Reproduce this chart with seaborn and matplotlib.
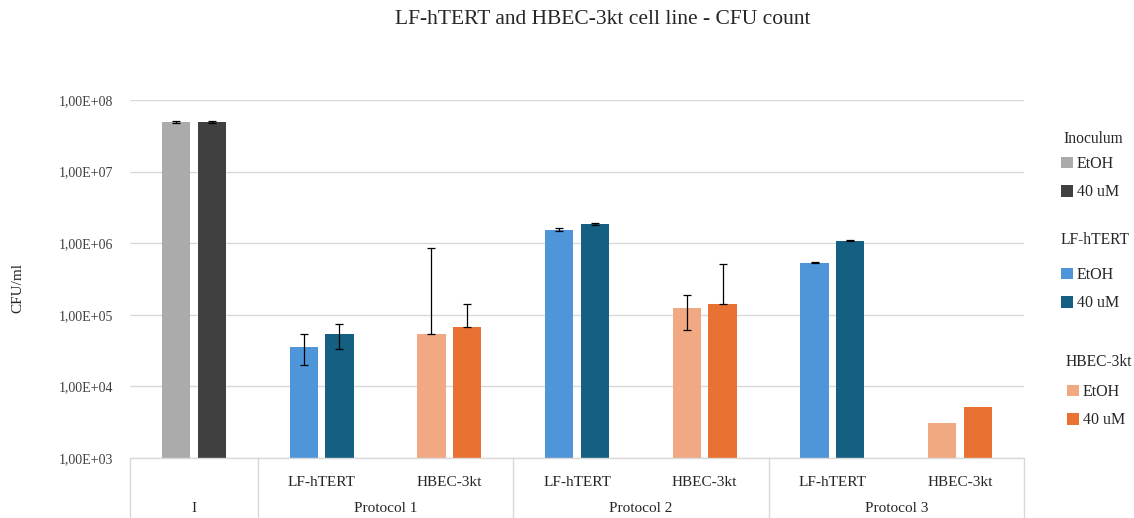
import numpy as np
import pandas as pd
import matplotlib
matplotlib.use("Agg")
import matplotlib.pyplot as plt
import seaborn as sns
from matplotlib.patches import Patch
from matplotlib.ticker import FixedLocator, FuncFormatter, NullLocator
import matplotlib.transforms as mtransforms

# ---------------- data ----------------
slots = ["I", "P1-LF", "P1-HBEC", "P2-LF", "P2-HBEC", "P3-LF", "P3-HBEC"]
sub_labels = ["", "LF-hTERT", "HBEC-3kt", "LF-hTERT", "HBEC-3kt", "LF-hTERT", "HBEC-3kt"]
groups = ["Inoculum", "LF-hTERT", "HBEC-3kt", "LF-hTERT", "HBEC-3kt", "LF-hTERT", "HBEC-3kt"]
protocols = ["I", "Protocol 1", "Protocol 2", "Protocol 3"]
protocol_slots = [[0], [1, 2], [3, 4], [5, 6]]
treatments = ["EtOH", "40 uM"]
legend_groups = ["Inoculum", "LF-hTERT", "HBEC-3kt"]

etoh = [5.0e7, 3.6e4, 5.4e4, 1.55e6, 1.25e5, 5.35e5, 3.1e3]
um40 = [5.0e7, 5.4e4, 6.8e4, 1.85e6, 1.40e5, 1.08e6, 5.2e3]
etoh_lo = [4.85e7, 2.0e4, 5.4e4, 1.49e6, 6.1e4, 5.28e5, np.nan]
etoh_hi = [5.15e7, 5.4e4, 8.5e5, 1.61e6, 1.9e5, 5.42e5, np.nan]
um40_lo = [4.85e7, 3.3e4, 6.8e4, 1.80e6, 1.40e5, 1.07e6, np.nan]
um40_hi = [5.15e7, 7.4e4, 1.4e5, 1.90e6, 5.1e5, 1.10e6, np.nan]

colors = {
    ("Inoculum", "EtOH"): "#ABABAB",
    ("Inoculum", "40 uM"): "#404040",
    ("LF-hTERT", "EtOH"): "#4E95D9",
    ("LF-hTERT", "40 uM"): "#155F82",
    ("HBEC-3kt", "EtOH"): "#F1A983",
    ("HBEC-3kt", "40 uM"): "#E97132",
}

df = pd.DataFrame({
    "slot": slots * 2,
    "treatment": ["EtOH"] * len(slots) + ["40 uM"] * len(slots),
    "value": etoh + um40,
})

# ---------------- figure ----------------
sns.set_theme(style="white")
plt.rcParams["font.family"] = ["Liberation Serif", "DejaVu Serif"]
TXT = "#262626"

W, H = 1134, 518
fig = plt.figure(figsize=(W / 100, H / 100), dpi=100)
ax = fig.add_axes([130 / W, 1 - 458 / H, (1024 - 130) / W, (458 - 100) / H])

sns.barplot(data=df, x="slot", y="value", hue="treatment", order=slots,
            hue_order=treatments, width=0.56, gap=0.21, log_scale=True,
            legend=False, ax=ax, err_kws={"linewidth": 0})

los = [etoh_lo, um40_lo]
his = [etoh_hi, um40_hi]
vals = [etoh, um40]
for ti, cont in enumerate(ax.containers[:2]):
    xs = []
    for j, bar in enumerate(cont):
        bar.set_facecolor(colors[(groups[j], treatments[ti])])
        bar.set_edgecolor("none")
        xs.append(bar.get_x() + bar.get_width() / 2)
    v = np.array(vals[ti])
    lo = np.array(los[ti])
    hi = np.array(his[ti])
    ax.errorbar(xs, v, yerr=[v - lo, hi - v], fmt="none", ecolor="black",
                elinewidth=0.9, capsize=3, capthick=0.9, zorder=5)

ax.set_yscale("log")
ax.set_ylim(1e3, 1e8)
ax.set_xlim(-0.5, 6.5)
ax.yaxis.set_major_locator(FixedLocator([1e3, 1e4, 1e5, 1e6, 1e7, 1e8]))
ax.yaxis.set_minor_locator(NullLocator())
ax.yaxis.set_major_formatter(FuncFormatter(
    lambda v, p: "1,00E+{:02d}".format(int(round(np.log10(v))))))
ax.tick_params(axis="y", labelsize=10, length=0, pad=12, labelcolor="#404040")
ax.set_xticks([])
ax.set_xlabel("")
ax.set_ylabel("")
ax.yaxis.grid(True, color="#D9D9D9", linewidth=1)
ax.set_axisbelow(True)
for s in ["top", "right", "left"]:
    ax.spines[s].set_visible(False)
ax.spines["bottom"].set_color("#D9D9D9")
ax.spines["bottom"].set_linewidth(1)

# category table under the axis
trans = mtransforms.blended_transform_factory(ax.transData, ax.transAxes)
bottom_y = -(H - 458) / 358
for b in [-0.5, 0.5, 2.5, 4.5, 6.5]:
    ax.plot([b, b], [0, bottom_y], color="#D9D9D9", linewidth=1,
            transform=trans, clip_on=False)
for i, lab in enumerate(sub_labels):
    if lab:
        ax.text(i, -(482 - 458) / 358, lab, transform=trans, ha="center",
                va="center", fontsize=11, color=TXT)
for name, sl in zip(protocols, protocol_slots):
    ax.text(np.mean(sl), -(508 - 458) / 358, name, transform=trans,
            ha="center", va="center", fontsize=11, color=TXT)

# titles
fig.text(603 / W, 1 - 20 / H, "LF-hTERT and HBEC-3kt cell line - CFU count",
         ha="center", va="center", fontsize=15.5, color=TXT)
fig.text(18 / W, 1 - 288 / H, "CFU/ml", rotation=90, ha="center",
         va="center", fontsize=11, color=TXT)

# legends (title as text + two-entry legend)
legend_layout = {  # title (x, y), first item center y, square left x
    "Inoculum": (1063, 139, 162, 1061),
    "LF-hTERT": (1061, 240, 273, 1061),
    "HBEC-3kt": (1066, 362, 390, 1067),
}
for gname in legend_groups:
    tx, ty, iy, hx = legend_layout[gname]
    fig.text(tx / W, 1 - ty / H, gname, ha="left", va="center",
             fontsize=11.2, color=TXT)
    handles = [Patch(facecolor=colors[(gname, t)], edgecolor="none") for t in treatments]
    leg = fig.legend(handles, treatments, loc="upper left",
                     bbox_to_anchor=(hx / W, 1 - (iy - 6) / H),
                     frameon=False, fontsize=11.5, handlelength=0.75,
                     handleheight=0.75, handletextpad=0.25, labelspacing=0.78,
                     borderaxespad=0, borderpad=0)
    for t in leg.get_texts():
        t.set_color(TXT)

fig.savefig("out.png", dpi=100)
